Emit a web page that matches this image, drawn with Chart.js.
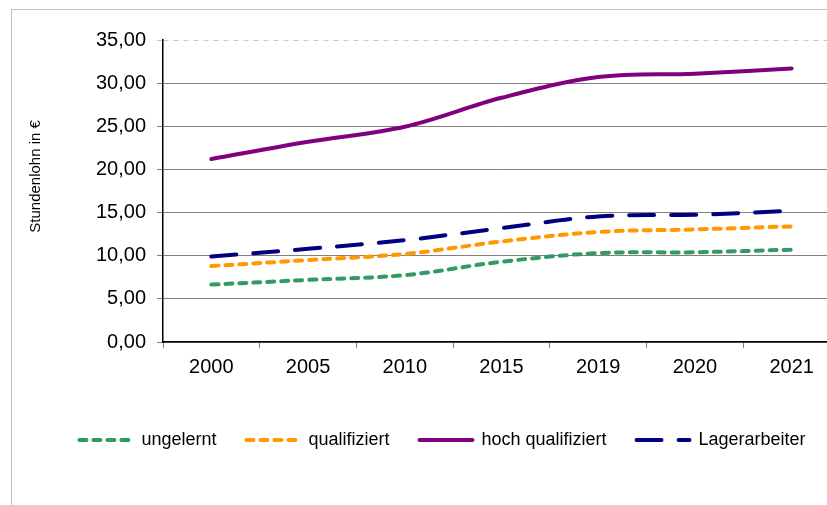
<!DOCTYPE html>
<html>
<head>
<meta charset="utf-8">
<script src="https://cdn.jsdelivr.net/npm/chart.js@4"></script>
<style>
  html, body { margin: 0; padding: 0; background: #fff; overflow: hidden; }
  #rahmen { position: absolute; left: 11px; top: 9px; width: 900px; height: 600px; border: 1px solid #c0c0c0; }
  #diagramm { position: absolute; left: 0; top: 0; }
</style>
</head>
<body>
<div id="rahmen"></div>
<canvas id="diagramm" width="860" height="505"></canvas>
<script>
var jahre = ["2000", "2005", "2010", "2015", "2019", "2020", "2021"];
var ungelernt = [6.65, 7.2, 7.75, 9.3, 10.3, 10.4, 10.7];
var qualifiziert = [8.8, 9.5, 10.2, 11.65, 12.75, 13.05, 13.4];
var hochQualifiziert = [21.2, 23.2, 24.95, 28.3, 30.7, 31.1, 31.7];
var lagerarbeiter = [9.9, 10.8, 11.8, 13.2, 14.55, 14.75, 15.2];
var yTicks = [0, 5, 10, 15, 20, 25, 30, 35];

var schrift = "'Liberation Sans', Arial, sans-serif";

function linie(label, daten, farbe, strich)
{
  return {
    label: label,
    data: daten,
    borderColor: farbe,
    backgroundColor: farbe,
    borderWidth: 4,
    borderDash: strich,
    borderCapStyle: 'round',
    pointRadius: 0,
    pointHoverRadius: 0,
    tension: 0.35,
    fill: false
  };
}

// legend samples: take dash and caps from the dataset, not from the point
function legendenEintraege(chart)
{
  var eintraege = Chart.defaults.plugins.legend.labels.generateLabels(chart);
  eintraege.forEach(function(e)
  {
    var ds = chart.data.datasets[e.datasetIndex];
    e.lineDash = ds.borderDash;
    e.lineCap = 'round';
    e.lineWidth = 4;
    e.strokeStyle = ds.borderColor;
  });
  return eintraege;
}

new Chart(document.getElementById("diagramm"),
{
  type: 'line',
  data:
  {
    labels: jahre,
    datasets:
    [
      linie("ungelernt", ungelernt, "#339966", [7, 7]),
      linie("qualifiziert", qualifiziert, "#ff9900", [7, 7]),
      linie("hoch qualifiziert", hochQualifiziert, "#800080", []),
      linie("Lagerarbeiter", lagerarbeiter, "#000080", [25, 17])
    ]
  },
  options:
  {
    responsive: false,
    animation: false,
    devicePixelRatio: 1,
    layout: { padding: { left: 45, right: 20, top: 40, bottom: 46 } },
    plugins:
    {
      tooltip: { enabled: false },
      legend:
      {
        position: 'bottom',
        labels:
        {
          usePointStyle: true,
          pointStyle: 'line',
          pointStyleWidth: 53,
          padding: 30,
          color: '#000',
          font: { family: schrift, size: 18 },
          generateLabels: legendenEintraege
        }
      }
    },
    scales:
    {
      x:
      {
        offset: true,
        grid: { offset: true, drawOnChartArea: false, drawTicks: true, tickLength: 6, color: '#808080' },
        border: { color: '#000', width: 1.5 },
        ticks: { color: '#000', padding: 7, maxRotation: 0, font: { family: schrift, size: 20 } },
        afterFit: function(scale) { scale.height = 59; }
      },
      y:
      {
        min: 0,
        max: 35,
        afterBuildTicks: function(scale) { scale.ticks = yTicks.map(function(v) { return { value: v }; }); },
        grid:
        {
          tickLength: 6,
          color: function(c) { return c.tick && c.tick.value === 35 ? '#c8c8c8' : '#808080'; }
        },
        border:
        {
          color: '#000',
          width: 1.5,
          dash: function(c) { return c.tick && c.tick.value === 35 ? [5, 5] : []; }
        },
        ticks:
        {
          color: '#000',
          padding: 11,
          font: { family: schrift, size: 20 },
          callback: function(v) { return v.toFixed(2).replace('.', ','); }
        },
        title:
        {
          display: true,
          text: '\u00a0\u00a0\u00a0\u00a0\u00a0\u00a0\u00a0Stundenlohn in €',
          color: '#000',
          padding: { top: -18, bottom: 0 },
          font: { family: schrift, size: 15 }
        },
        afterFit: function(scale) { scale.width = 118; }
      }
    }
  }
});
</script>
</body>
</html>
